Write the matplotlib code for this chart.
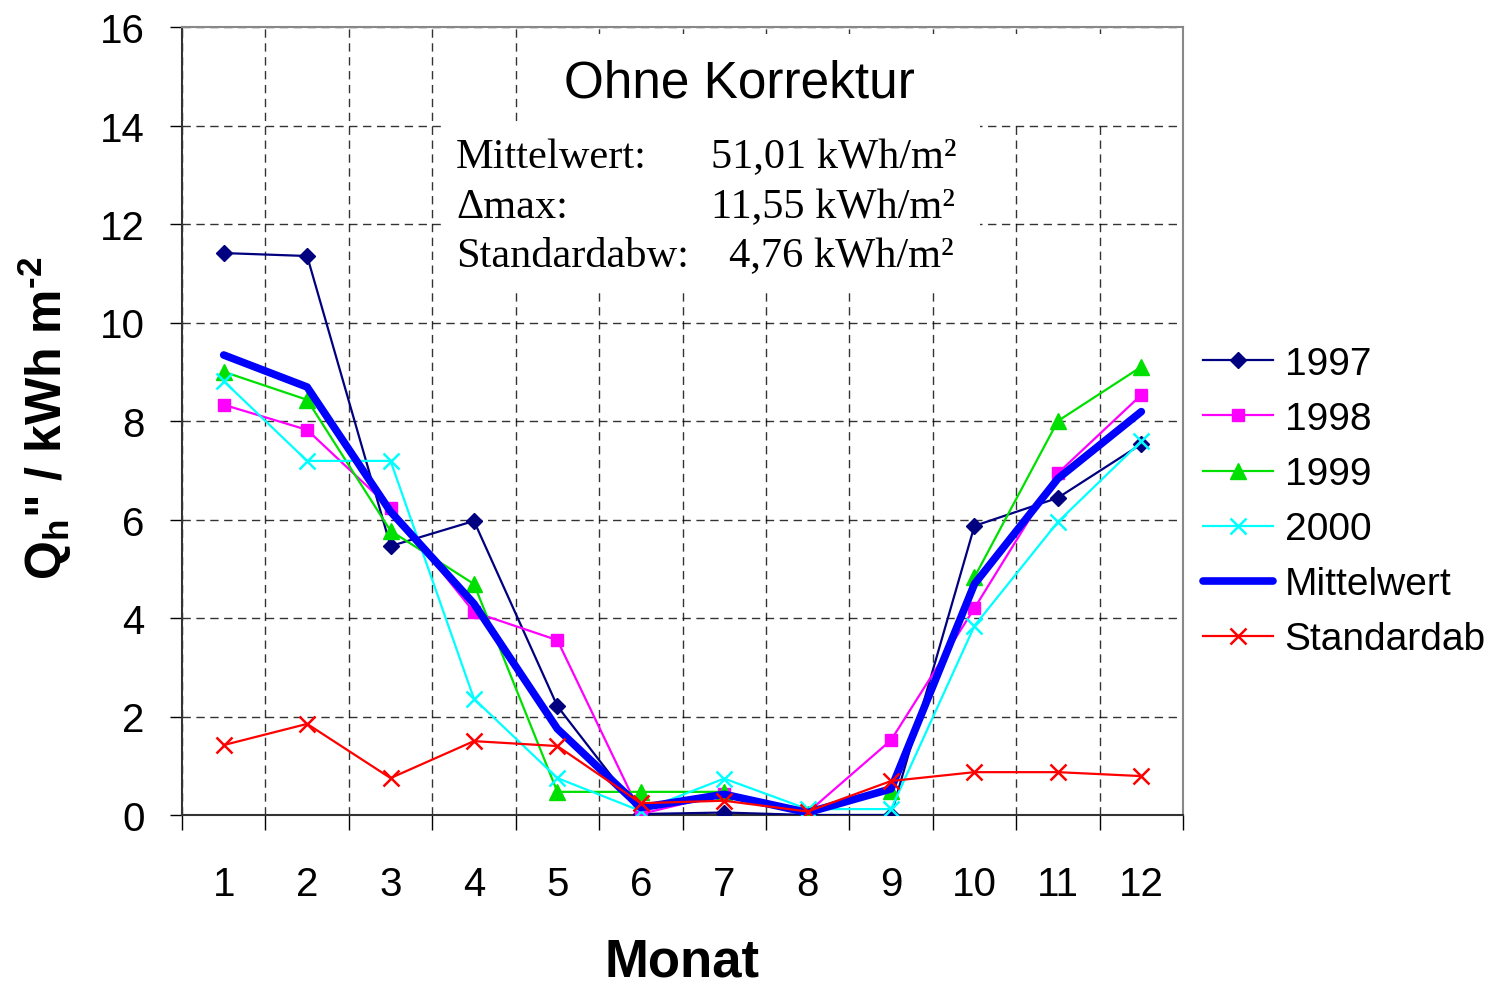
import matplotlib
matplotlib.use("Agg")
import matplotlib.pyplot as plt
from matplotlib.patches import Rectangle
import numpy as np

plt.rcParams['font.family'] = ['Liberation Sans', 'DejaVu Sans']
plt.rcParams['mathtext.fontset'] = 'custom'
plt.rcParams['mathtext.rm'] = 'Liberation Sans:bold'
plt.rcParams['mathtext.it'] = 'Liberation Sans:bold'
plt.rcParams['mathtext.bf'] = 'Liberation Sans:bold'

# Monate und Werte (kWh/m2)
monate = [1, 2, 3, 4, 5, 6, 7, 8, 9, 10, 11, 12]
q_1997 = [11.41, 11.35, 5.46, 5.97, 2.21, 0.02, 0.05, 0.0, 0.0, 5.87, 6.44, 7.53]
q_1998 = [8.33, 7.82, 6.23, 4.12, 3.55, 0.02, 0.43, 0.05, 1.52, 4.20, 6.94, 8.53]
q_1999 = [9.00, 8.43, 5.77, 4.69, 0.47, 0.47, 0.47, 0.02, 0.49, 4.83, 8.00, 9.10]
q_2000 = [8.81, 7.19, 7.19, 2.36, 0.75, 0.08, 0.74, 0.12, 0.12, 3.84, 5.95, 7.59]
mittel = [9.34, 8.69, 6.16, 4.29, 1.75, 0.15, 0.42, 0.05, 0.53, 4.69, 6.83, 8.19]
stdabw = [1.42, 1.85, 0.75, 1.50, 1.40, 0.24, 0.29, 0.07, 0.69, 0.87, 0.87, 0.79]

fig = plt.figure(figsize=(14.94, 9.87), dpi=100)
ax = fig.add_axes([182/1494, 1-816/987, 1001/1494, 788/987])

ax.plot(monate, q_1997, color='#000080', lw=1.6, marker='D', ms=8, label='1997', zorder=3)
ax.plot(monate, q_1998, color='#FF00FF', lw=1.6, marker='s', ms=9, label='1998', zorder=3)
ax.plot(monate, q_1999, color='#00E000', lw=1.6, marker='^', ms=11, label='1999', zorder=3)
ax.plot(monate, q_2000, color='#00FFFF', lw=1.6, marker='x', ms=11, mew=1.8, label='2000', zorder=3)
ax.plot(monate, mittel, color='#0000FF', lw=5.5, solid_capstyle='round', label='Mittelwert', zorder=4)
ax.plot(monate, stdabw, color='#FF0000', lw=1.6, marker='x', ms=11, mew=1.8, label='Standardab', zorder=5)

ax.set_xlim(0.5, 12.5)
ax.set_ylim(0, 16)
ax.set_yticks(np.arange(0, 17, 2))
ax.set_xticks(np.arange(0.5, 13, 1))
ax.set_xticklabels([])
ax.set_xticks(monate, minor=True)
ax.set_xticklabels([str(m) for m in monate], minor=True)
ax.tick_params(axis='x', which='major', length=11, width=1, direction='out')
ax.tick_params(axis='x', which='minor', length=0, pad=36, labelsize=29)
ax.tick_params(axis='y', length=9, width=1, direction='out', pad=18, labelsize=29)

ax.grid(True, which='major', color='black', linestyle=(0, (6, 4)), lw=1.0, alpha=0.8, zorder=0)
ax.set_axisbelow(True)

for s in ['top', 'right']:
    ax.spines[s].set_color('#888888')
    ax.spines[s].set_linewidth(1.5)
for s in ['left', 'bottom']:
    ax.spines[s].set_color('#333333')
    ax.spines[s].set_linewidth(1.5)

# weisse Flaechen hinter Titel und Statistik
ax.add_patch(Rectangle((0.358, 0.877), 0.627, 0.114, transform=ax.transAxes,
                       facecolor='white', edgecolor='none', zorder=1))
ax.add_patch(Rectangle((0.261, 0.665), 0.536, 0.212, transform=ax.transAxes,
                       facecolor='white', edgecolor='none', zorder=1))

ax.text(739/1494, 1-84/987, 'Ohne Korrektur', transform=fig.transFigure,
        ha='center', va='center', fontsize=37)

serif = ['Liberation Serif', 'DejaVu Serif']
zeilen = [('Mittelwert:', '51,01 kWh/m²', 711),
          ('Δmax:', '11,55 kWh/m²', 711),
          ('Standardabw:', '4,76 kWh/m²', 729)]
for i, (lab, val, xv) in enumerate(zeilen):
    y = 1 - (158 + 49.5*i)/987
    fig.text(456/1494, y, lab, family=serif, fontsize=30.5, ha='left', va='center')
    fig.text(xv/1494, y, val, family=serif, fontsize=30.5, ha='left', va='center')

ax.set_xlabel('Monat', fontsize=38, fontweight='bold', labelpad=24)
fig.text(45/1494, 1-418/987, 'Q$_\\mathrm{h}$" / kWh m$^\\mathrm{\u20102}$', rotation=90,
         fontsize=36, fontweight='bold', ha='center', va='center')

fig.legend(loc='upper left', bbox_to_anchor=(1203/1494, 1-347/987), frameon=False,
           fontsize=28, handlelength=1.8, handletextpad=0.3, labelspacing=0.49,
           borderpad=0, borderaxespad=0)

fig.savefig('out.png', dpi=100)
